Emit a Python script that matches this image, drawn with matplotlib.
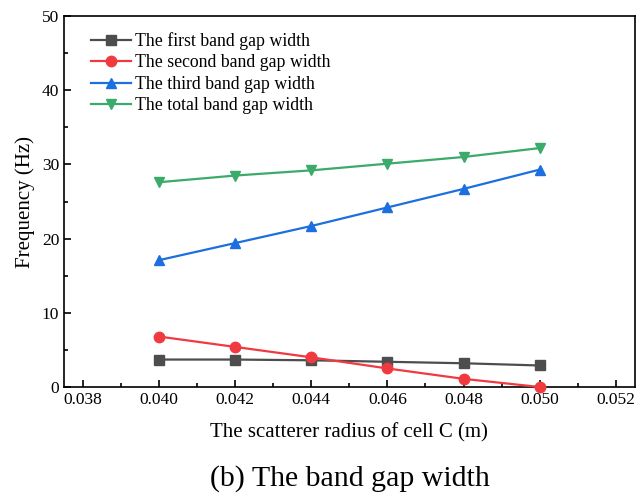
import numpy as np
import matplotlib.pyplot as plt
from matplotlib.ticker import MultipleLocator

plt.rcParams['font.family'] = ['Liberation Serif', 'DejaVu Serif']
plt.rcParams['mathtext.fontset'] = 'stix'

# scatterer radius (m) and band gap widths (Hz)
radius = [0.040, 0.042, 0.044, 0.046, 0.048, 0.050]
first_gap = [3.7, 3.7, 3.6, 3.4, 3.2, 2.9]
second_gap = [6.8, 5.4, 4.0, 2.5, 1.1, 0.0]
third_gap = [17.1, 19.4, 21.7, 24.2, 26.7, 29.3]
total_gap = [27.6, 28.5, 29.2, 30.1, 31.0, 32.2]

labels = ['The first band gap width', 'The second band gap width',
          'The third band gap width', 'The total band gap width']
colors = ['#4d4d4d', '#f03a40', '#1b6fde', '#3aab6a']
markers = ['s', 'o', '^', 'v']

fig = plt.figure(figsize=(6.37, 4.93), dpi=100)
ax = fig.add_axes([0.1005, 0.215, 0.896, 0.7525])

for ys, lab, c, m in zip([first_gap, second_gap, third_gap, total_gap],
                         labels, colors, markers):
    ax.plot(radius, ys, color=c, marker=m, markersize=7.5, linewidth=1.6,
            label=lab, clip_on=False, zorder=3)

ax.set_xlim(0.0375, 0.0525)
ax.set_ylim(0, 50)
ax.xaxis.set_major_locator(MultipleLocator(0.002))
ax.xaxis.set_minor_locator(MultipleLocator(0.001))
ax.yaxis.set_major_locator(MultipleLocator(10))
ax.yaxis.set_minor_locator(MultipleLocator(5))
ax.xaxis.set_major_formatter(plt.FuncFormatter(lambda v, p: f'{v:.3f}'))
ax.tick_params(which='both', direction='in', labelsize=12.5, width=1.2)
ax.tick_params(which='major', length=5)
ax.tick_params(which='minor', length=3)
for s in ax.spines.values():
    s.set_linewidth(1.2)

ax.set_xlabel('The scatterer radius of cell C (m)', fontsize=15, labelpad=11)
ax.set_ylabel('Frequency (Hz)', fontsize=15, labelpad=5)
fig.text(0.55, 0.03, '(b) The band gap width', fontsize=21.5, ha='center', va='center')

ax.legend(loc='upper left', frameon=False, fontsize=12.8, handlelength=2.2,
          handletextpad=0.25, labelspacing=0.25, borderaxespad=0.5,
          bbox_to_anchor=(0.02, 1.0))

fig.savefig('out.png', dpi=100)
